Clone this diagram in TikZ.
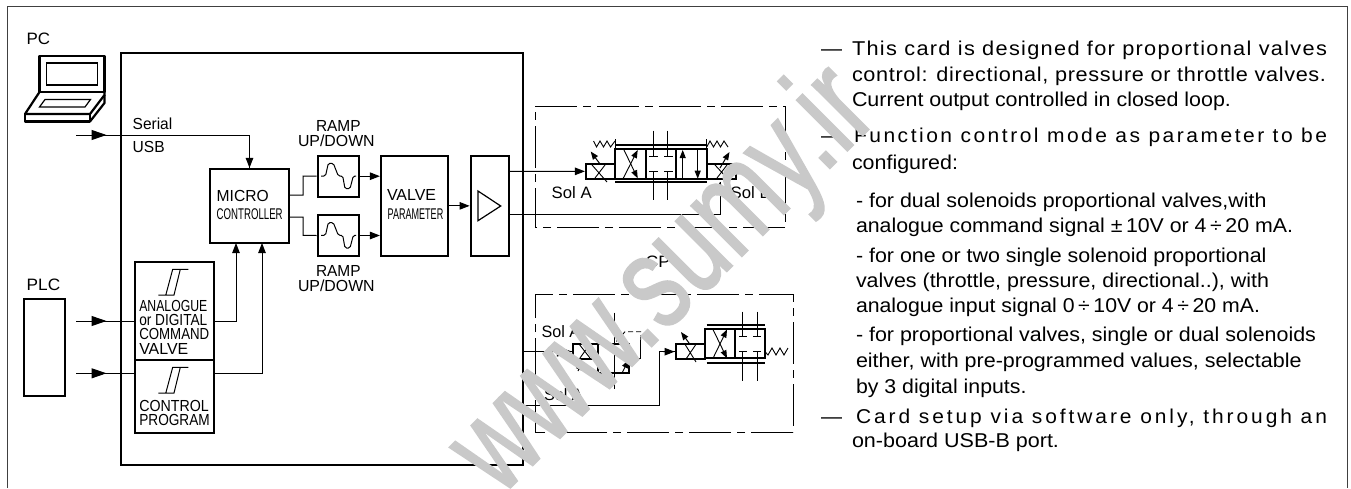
\documentclass[tikz,border=0pt]{standalone}
\usepackage{fontspec}
\usepackage{graphicx}
\setmainfont{Liberation Sans}
\usetikzlibrary{arrows.meta}
\definecolor{wmgray}{HTML}{C9C9C9}
\tikzset{
  blk/.style={draw=black,line width=2.2pt,fill=white,inner sep=0,line join=miter},
  thick2/.style={line width=2.2pt,draw=black},
  thinl/.style={line width=.9pt,draw=black},
  wire/.style={line width=1pt,draw=black},
  tipS/.style={-{Triangle[length=10pt,width=7.5pt]}},
  tipT/.style={-{Triangle[length=8pt,width=6pt]}},
  tipL/.style={-{Triangle[length=15pt,width=10pt]}},
  dashbox/.style={line width=.9pt,draw=black,dash pattern=on 42pt off 6pt on 8pt off 6pt},
  lab/.style={anchor=base west,inner sep=0,outer sep=0},
  wm/.style={anchor=base west,inner sep=0,text=wmgray,rotate=45},
}
% name, x, baseline, width, size, text
\newcommand{\dlab}[6]{\node[lab] (#1) at (#2,#3) {\resizebox{#4pt}{\height}{\fontsize{#5}{#5}\selectfont #6}};}
% name, x, baseline, width, letterspace, text
\newcommand{\rlin}[6]{\node[lab] (#1) at (#2,#3) {\resizebox{#4pt}{\height}{\fontsize{20}{20}\selectfont\addfontfeature{LetterSpace=#5}#6}};}
% name, x1,y1,x2,y2 block
\newcommand{\bbox}[5]{\node[blk,minimum width=#4pt-#2pt,minimum height=#5pt-#3pt] (#1) at ({(#2+#4)/2},{(#3+#5)/2}) {};}
\begin{document}
\begin{tikzpicture}[x=1pt,y=-1pt]
\useasboundingbox (0,0) rectangle (1351,488);
\fill[white] (0,0) rectangle (1351,488);
% outer frame (open at the bottom)
\draw[line width=1pt,draw=black!75] (7.5,488) -- (7.5,6.5) -- (1347.5,6.5) -- (1347.5,488);
% main card
\bbox{card}{121}{53}{523}{465}
\dlab{pclab}{26.7}{44}{23.5}{16.5}{PC}
\dlab{plclab}{26.7}{290}{33.5}{16.5}{PLC}
% laptop
\draw[thick2,line join=round] (39.5,92) -- (39.5,56) -- (104.5,56) -- (104.5,92) -- cycle;
\draw[thinl,line width=1.2pt] (46.5,63) rectangle (97.5,85);
\draw[thick2,line join=round] (39.5,92) -- (25,114) -- (90,114) -- (104.5,95) -- (104.5,92);
\draw[thick2,line join=round] (25,114) -- (25,121.5) -- (90,121.5) -- (90,114);
\draw[thick2,line join=round] (90,121.5) -- (104.5,103) -- (104.5,95);
\draw[thinl,line width=1.2pt] (39.5,107) -- (85,107) -- (90.5,99.5) -- (45,99.5) -- cycle;
% PLC box
\bbox{plc}{23.7}{298.7}{65}{395.7}
% blocks
\bbox{micro}{210}{169}{289}{243}
\bbox{analog}{135}{262}{214}{360}
\bbox{prog}{135}{360}{214}{433}
\bbox{rampa}{317.7}{155.7}{359.3}{196.7}
\bbox{rampb}{317.7}{215}{359.3}{256}
\bbox{valvep}{381}{155.7}{448}{256}
\bbox{amp}{470.7}{155.7}{508.7}{256}
% texts
\dlab{serial}{132.7}{129.3}{39.6}{16}{Serial}
\dlab{usb}{132.7}{152.7}{32}{16}{USB}
\dlab{microa}{216.7}{201}{52}{16}{MICRO}
\dlab{microb}{216.7}{219.3}{66}{15.5}{CONTROLLER}
\dlab{rampta}{316}{131}{44.7}{16}{RAMP}
\dlab{ramptb}{298}{146}{76.7}{16}{UP/DOWN}
\dlab{rampba}{316}{276.7}{44.7}{16}{RAMP}
\dlab{rampbb}{298}{291.7}{76.7}{16}{UP/DOWN}
\dlab{valvea}{387}{200.7}{49}{16}{VALVE}
\dlab{valveb}{387.7}{219.3}{55.6}{15.5}{PARAMETER}
\dlab{ana}{139.3}{311.5}{68}{16}{ANALOGUE}
\dlab{anb}{139.3}{325.5}{68}{16}{or DIGITAL}
\dlab{anc}{139.3}{339.5}{70}{16}{COMMAND}
\dlab{and}{139.3}{354.5}{49}{16}{VALVE}
\dlab{prga}{139.3}{411.5}{69.5}{16}{CONTROL}
\dlab{prgb}{139.3}{425.5}{70.5}{16}{PROGRAM}
% hysteresis
\foreach \d in {0,98}{
  \draw[thinl,line width=1pt] (188.3,269.3+\d) -- (172.7,269.3+\d) -- (165.8,295+\d) -- (158.3,295+\d) -- (174,295+\d) -- (180.3,269.3+\d);
}
% ramp curves
\foreach \d in {0,59.3}{
  \draw[thinl,line width=1pt,rounded corners=1.6pt] (321,176+\d) -- (325.5,176+\d) -- (328.3,163.3+\d) -- (333.3,163.3+\d) -- (338.3,176+\d) -- (342.7,176+\d) -- (345,188.7+\d) -- (350,188.7+\d) -- (353.3,176+\d) -- (356,176+\d);
}
% amp triangle
\draw[line width=1.2pt] (478,191) -- (478,220.7) -- (500.7,206) -- cycle;
% connectors, left part
\coordinate (pcin) at (76,135);
\coordinate (pcm) at (106.5,135);
\coordinate (plca) at (76,321);
\coordinate (plcam) at (106.5,321);
\coordinate (plcb) at (76,373.3);
\coordinate (plcbm) at (106.5,373.3);
\coordinate (anin) at (analog.west |- plca);
\coordinate (prin) at (prog.west |- plcb);
\coordinate (anout) at (analog.east |- plca);
\coordinate (prout) at (prog.east |- plcb);
\coordinate (mtop) at (micro.north);
\coordinate (mba) at (236,243);
\coordinate (mbb) at (262,243);
\draw[wire] (pcin) -| (mtop);
\draw[wire,tipS] (micro.north |- pcin) -- (mtop);
\draw[tipL,line width=1pt] (pcin) -- (pcm);
\draw[wire] (plca) -- (anin);
\draw[tipL,line width=1pt] (plca) -- (plcam);
\draw[wire] (plcb) -- (prin);
\draw[tipL,line width=1pt] (plcb) -- (plcbm);
\draw[wire,tipS] (anout) -| (mba);
\draw[wire,tipS] (prout) -| (mbb);
\coordinate (mouta) at (289,195);
\coordinate (moutb) at (289,217);
\coordinate (rina) at (rampa.west);
\coordinate (rinb) at (rampb.west);
\draw[wire] (mouta) -- (303,195) -- (303,176) -- (rina);
\draw[wire] (moutb) -- (303,217) -- (303,235.3) -- (rinb);
\draw[wire,tipS] (rampa.east) -- (valvep.west |- rampa.east);
\draw[wire,tipS] (rampb.east) -- (valvep.west |- rampb.east);
\draw[wire,tipS] (valvep.east) -- (amp.west);
% dashed boxes
\draw[dashbox] (785,227.7) -- (535,227.7) -- (535,106) -- (785,106) -- cycle;
\draw[dashbox] (793,432) -- (535,432) -- (535,294) -- (793,294) -- cycle;
% upper valve
\bbox{sola}{586}{164}{615}{178.7}
\bbox{solb}{706.7}{164}{735.7}{178.7}
\bbox{spa}{615}{149.3}{645.7}{178.7}
\bbox{spb}{645.7}{149.3}{675.7}{178.7}
\bbox{spc}{675.7}{149.3}{706.7}{178.7}
\draw[thick2] (615,145) -- (706.7,145);
\draw[thick2] (615,182.3) -- (706.7,182.3);
\draw[thinl] (653.3,130.7) -- (653.3,156.7) (667.7,130.7) -- (667.7,156.7);
\draw[thinl] (653.3,171) -- (653.3,200) (667.7,171) -- (667.7,200);
\draw[thinl] (649,156.7) -- (657.5,156.7) (664,156.7) -- (672.5,156.7);
\draw[thinl] (649,171) -- (657.5,171) (664,171) -- (672.5,171);
\draw[thinl,tipT] (623,178.7) -- (637.7,150);
\draw[thinl,tipT] (624,150) -- (637.7,178.3);
\draw[thinl,tipT] (682.7,178.7) -- (682.7,150);
\draw[thinl,tipT] (697.7,150) -- (697.7,178.7);
\draw[thinl] (592,165) -- (607,182) (605,165) -- (595,178);
\draw[line width=1pt,tipT] (600,164) -- (590.7,151.5);
\draw[thinl] (715,165) -- (727,178) (727,165) -- (717,178);
\draw[line width=1pt,tipT] (720,168) -- (729.5,152);
\draw[thinl] (593.5,141) -- (596.5,147) -- (600,141) -- (603.5,147) -- (607,141) -- (610.5,147) -- (615,141);
\draw[thinl] (615,139) -- (615,149);
\draw[thinl] (706.7,147) -- (710,141) -- (713.5,147) -- (717,141) -- (720.5,147) -- (724,141) -- (728,147);
\draw[thinl] (706.7,139) -- (706.7,149);
\coordinate (ampb) at (508.7,214);
\coordinate (solbin) at (720,181.7);
\draw[wire,tipS] (508.7,171.3) -- (sola.west);
\draw[wire] (ampb) -| (solbin);
\draw[wire,tipS] (720,198) -- (solbin);
\dlab{sa}{551.7}{198}{40}{16.5}{Sol A}
\dlab{sb}{730.7}{198}{40}{16.5}{Sol B}
\dlab{cp}{645.7}{267}{24.5}{16.5}{CP}
% lower valves
\bbox{rsol}{573}{344}{598}{359}
\bbox{rmain}{598}{344}{629.3}{373.3}
\draw[thinl] (614,312.7) -- (614,389);
\draw[thinl] (629.3,358.3) -- (640.7,358.3) -- (640.7,340);
\draw[thinl,dash pattern=on 5pt off 3pt] (640.7,340) -- (640.7,331.7) -- (625,331.7) -- (615,343);
\draw[thinl,tipT] (622,373) -- (628.5,360);
\draw[thinl] (579,344) -- (590,358) (590,344) -- (580,358);
\draw[line width=1pt,tipT] (578,371) -- (582,362);
\coordinate (rin) at (rsol.west);
\coordinate (cardr) at (card.east |- rin);
\draw[wire] (cardr) -- (rin);
\draw[line width=1pt,tipL] (558,351.5) -- (rin);
\bbox{dsol}{675.7}{344.3}{705}{359}
\bbox{dsa}{705}{329}{735}{358.3}
\bbox{dsb}{735}{329}{765}{358.3}
\draw[thick2] (706.7,325) -- (765,325);
\draw[thick2] (706.7,362.7) -- (765,362.7);
\draw[thinl] (742.7,311.7) -- (742.7,336.7) (757.3,311.7) -- (757.3,336.7);
\draw[thinl] (742.7,351.7) -- (742.7,381) (757.3,351.7) -- (757.3,381);
\draw[thinl] (739,336.7) -- (747,336.7) (753,336.7) -- (761,336.7);
\draw[thinl] (739,351.7) -- (747,351.7) (753,351.7) -- (761,351.7);
\draw[thinl,tipT] (713,358.3) -- (727,329.5);
\draw[thinl,tipT] (713,329.5) -- (727,358.3);
\draw[thinl] (685,344.3) -- (696,362) (696,344.3) -- (686,359);
\draw[line width=1pt,tipT] (689,343) -- (681,332);
\draw[thinl] (765,351.7) -- (768,355) -- (772,348) -- (776,355) -- (780,348) -- (784,355) -- (788,348);
\coordinate (dfeed) at (card.east |- 0,405);
\coordinate (dbend) at (659,405);
\coordinate (dtip) at (dsol.west);
\draw[wire] (dfeed) -- (dbend) |- (dtip);
\draw[line width=1pt,tipS] (663,351.7) -- (dtip);
\dlab{sc}{541.7}{337.7}{38.5}{16.5}{Sol A}
\dlab{sd}{544}{400.7}{38.7}{16.5}{Sol A}
% right-hand text
\rlin{r1}{852}{55.7}{475}{6}{This card is designed for proportional valves}
\rlin{r2}{852}{81}{474}{3}{control: directional, pressure or throttle valves.}
\rlin{r3}{852}{106}{379}{0}{Current output controlled in closed loop.}
\rlin{r4}{854}{142.7}{473}{12}{Function control mode as parameter to be}
\rlin{r5}{852}{169}{106}{0}{configured:}
\rlin{r6}{856}{207}{410.5}{0}{- for dual solenoids proportional valves,with}
\rlin{r7}{856}{232}{437}{0}{analogue command signal ±\,10V or 4\,÷\,20 mA.}
\rlin{r8}{856}{262}{410.5}{0}{- for one or two single solenoid proportional}
\rlin{r9}{856}{287}{413}{0}{valves (throttle, pressure, directional..), with}
\rlin{r10}{856}{312.7}{404}{0}{analogue input signal 0\,÷\,10V or 4\,÷\,20 mA.}
\rlin{r11}{856}{341}{460}{0}{- for proportional valves, single or dual solenoids}
\rlin{r12}{856}{367}{445.6}{0}{either, with pre-programmed values, selectable}
\rlin{r13}{856}{393}{170.5}{0}{by 3 digital inputs.}
\rlin{r14}{856}{423}{471}{14}{Card setup via software only, through an}
\rlin{r15}{852}{447}{207}{0}{on-board USB-B port.}
\rlin{d1}{821}{55.7}{21}{0}{—}
\rlin{d2}{821}{142.7}{21}{0}{—}
\rlin{d3}{821}{423}{21}{0}{—}
% watermark
\node[wm] (mark) at (500,498) {\scalebox{.72}[1]{\fontsize{135}{135}\selectfont\addfontfeature{FakeBold=1.5}www.sumy.ir}};
\end{tikzpicture}
\end{document}
